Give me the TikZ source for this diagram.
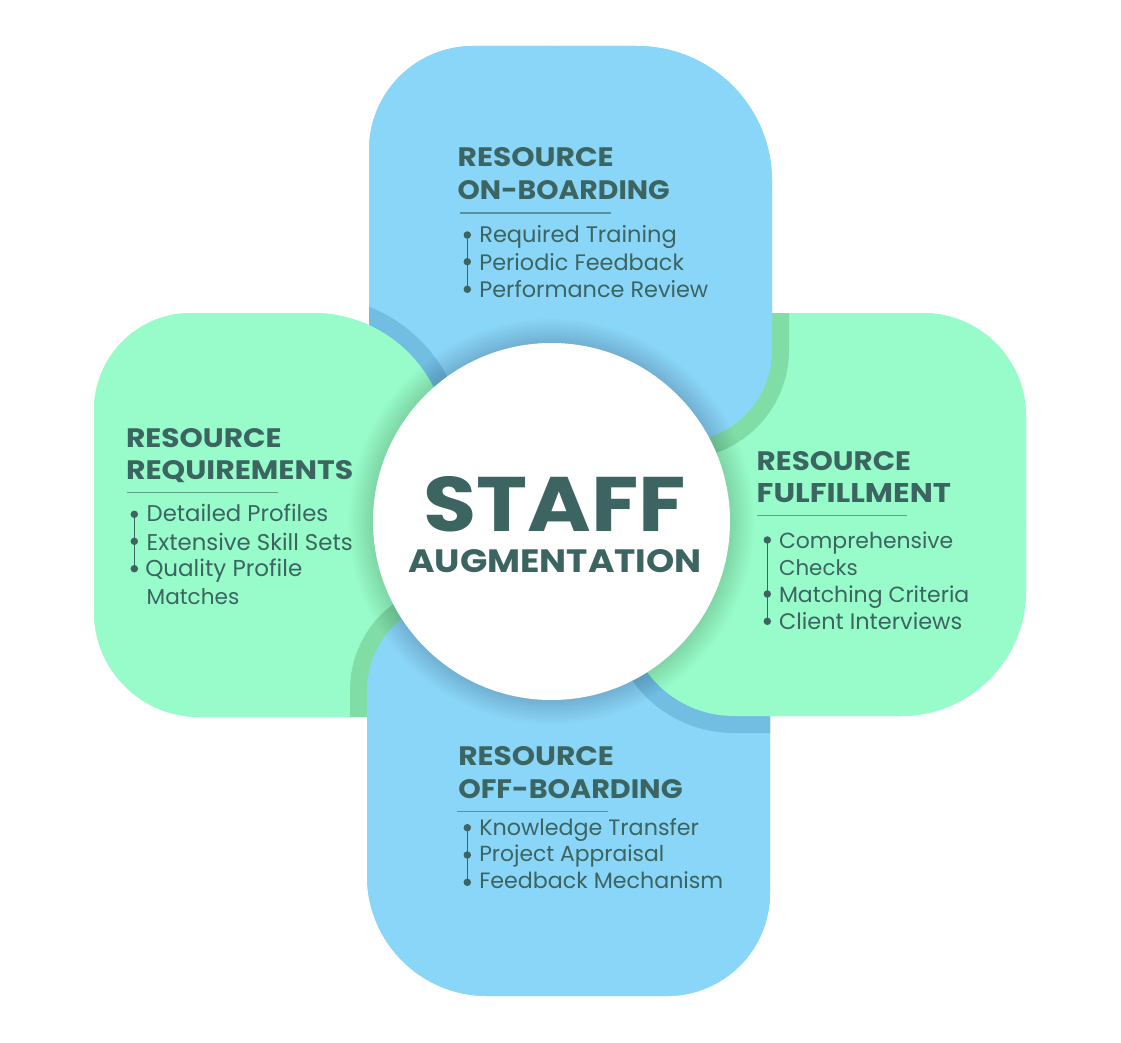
\documentclass[tikz,border=0pt]{standalone}
\usepackage{fontspec}
\usepackage{graphicx}
\setmainfont{Poppins}
\definecolor{blu}{HTML}{8AD6F8}
\definecolor{grn}{HTML}{97FCCA}
\definecolor{dblu}{HTML}{72BEE3}
\definecolor{dgrn}{HTML}{80DDA6}
\definecolor{ink}{RGB}{60,100,96}
% rounded rectangle: x0 y0 x1 y1 r_tl r_tr r_br r_bl (image coords, y down)
\newcommand\shp[8]{({#1+(#5)},{#2}) -- ({#3-(#6)},{#2}) arc[start angle=270,end angle=360,radius={#6}] -- ({#3},{#4-(#7)}) arc[start angle=0,end angle=90,radius={#7}] -- ({#1+(#8)},{#4}) arc[start angle=90,end angle=180,radius={#8}] -- ({#1},{#2+(#5)}) arc[start angle=180,end angle=270,radius={#5}] -- cycle}
\newcommand\shpb[8]{\shp{#1-17}{#2-17}{#3+17}{#4+17}{#5+17}{#6+17}{#7+17}{#8+17}}
\newcommand\Ptop{\shp{369}{46}{772}{442}{104}{135}{92}{100}}
\newcommand\Btop{\shpb{369}{46}{772}{442}{104}{135}{92}{100}}
\newcommand\Pright{\shp{626}{313}{1026}{716}{100}{103}{125}{108}}
\newcommand\Bright{\shpb{626}{313}{1026}{716}{100}{103}{125}{108}}
\newcommand\Pbot{\shp{367}{600}{770}{996}{90}{100}{103}{120}}
\newcommand\Bbot{\shpb{367}{600}{770}{996}{90}{100}{103}{120}}
\newcommand\Pleft{\shp{94}{313}{448}{717}{97}{135}{60}{105}}
\newcommand\Bleft{\shpb{94}{313}{448}{717}{97}{135}{60}{105}}
\tikzset{
  hd/.style={anchor=base west,inner sep=0pt,outer sep=0pt,text=ink},
  it/.style={anchor=base west,inner sep=0pt,outer sep=0pt,text=ink},
  dotn/.style={circle,fill=ink,inner sep=0pt,minimum size=7.5pt},
  stem/.style={draw=ink,line width=1.5pt},
  rulel/.style={draw=ink,draw opacity=0.6,line width=1.1pt},
}
\begin{document}
\begin{tikzpicture}[x=1pt,y=-1pt]
\useasboundingbox (0,0) rectangle (1121,1043);
\coordinate (C) at (551.5,521.5);
% base layer (removes seams at the quadrant borders)
\fill[blu] \Ptop; \fill[blu] \Pbot;
\fill[grn] \Pright; \fill[grn] \Pleft;
% top-right quadrant: top over right
\begin{scope}
  \clip (550,0) rectangle (1121,523);
  \fill[grn] \Pright;
  \begin{scope}\clip \Pright; \fill[dgrn] \Btop; \end{scope}
  \fill[blu] \Ptop;
\end{scope}
% bottom-right quadrant: right over bottom
\begin{scope}
  \clip (550,520) rectangle (1121,1043);
  \fill[blu] \Pbot;
  \begin{scope}\clip \Pbot; \fill[dblu] \Bright; \end{scope}
  \fill[grn] \Pright;
\end{scope}
% bottom-left quadrant: bottom over left
\begin{scope}
  \clip (0,520) rectangle (553,1043);
  \fill[grn] \Pleft;
  \begin{scope}\clip \Pleft; \fill[dgrn] \Bbot; \end{scope}
  \fill[blu] \Pbot;
\end{scope}
% top-left quadrant: left over top
\begin{scope}
  \clip (0,0) rectangle (553,523);
  \fill[blu] \Ptop;
  \begin{scope}\clip \Ptop; \fill[dblu] \Bleft; \end{scope}
  \fill[grn] \Pleft;
\end{scope}
% soft shadow around the centre circle
\foreach \k in {1,...,12} {
  \fill[black,opacity=0.013] (C) circle[radius=178.5+2*\k];
}
\node[circle,fill=white,inner sep=0pt,minimum size=357pt] (hub) at (C) {};
% centre title
\node[hd] (staff) at (423.3,531.7) {\resizebox{262.4pt}{55pt}{\bfseries STAFF}};
\node[hd] (aug) at (408.3,572.3) {\resizebox{293.4pt}{23pt}{\bfseries AUGMENTATION}};

% ---------- top block ----------
\node[hd] (th1) at (457.7,166.7) {\resizebox{156pt}{19pt}{\bfseries RESOURCE}};
\node[hd] (th2) at (457.7,199.7) {\resizebox{212pt}{19pt}{\bfseries ON-BOARDING}};
\coordinate (tra) at (460,213); \coordinate (trb) at (610.7,213);
\draw[rulel] (tra) -- (trb);
\node[dotn] (td1) at (467.3,235) {};
\node[dotn] (td2) at (467.3,261.7) {};
\node[dotn] (td3) at (467.3,289.3) {};
\draw[stem] (td1.center) -- (td3.center);
\node[it] (ti1) at (479.3,242.7) {\resizebox{197.4pt}{!}{Required Training}};
\node[it] (ti2) at (479.3,270) {\resizebox{204.7pt}{!}{Periodic Feedback}};
\node[it] (ti3) at (479.3,297.3) {\resizebox{229pt}{!}{Performance Review}};

% ---------- left block ----------
\node[hd] (lh1) at (126,447.3) {\resizebox{155.7pt}{19pt}{\bfseries RESOURCE}};
\node[hd] (lh2) at (126,479) {\resizebox{227.3pt}{19pt}{\bfseries REQUIREMENTS}};
\coordinate (lra) at (127.3,492.3); \coordinate (lrb) at (278,492.3);
\draw[rulel] (lra) -- (lrb);
\node[dotn] (ld1) at (134.3,514.3) {};
\node[dotn] (ld2) at (134.3,541.3) {};
\node[dotn] (ld3) at (134.3,568.7) {};
\draw[stem] (ld1.center) -- (ld3.center);
\node[it] (li1) at (146.7,521.7) {\resizebox{181.6pt}{!}{Detailed Profiles}};
\node[it] (li2) at (146.7,550) {\resizebox{206pt}{!}{Extensive Skill Sets}};
\node[it] (li3) at (145.3,576.7) {\resizebox{157pt}{!}{Quality Profile}};
\node[it] (li4) at (146.7,604) {\resizebox{92.6pt}{!}{Matches}};

% ---------- right block ----------
\node[hd] (rh1) at (756.7,470) {\resizebox{154.3pt}{19pt}{\bfseries RESOURCE}};
\node[hd] (rh2) at (756.7,502.3) {\resizebox{194.3pt}{19pt}{\bfseries FULFILLMENT}};
\coordinate (rra) at (757.3,515.3); \coordinate (rrb) at (907.3,515.3);
\draw[rulel] (rra) -- (rrb);
\node[dotn] (rd1) at (767.3,540) {};
\node[dotn] (rd2) at (767.3,594) {};
\node[dotn] (rd3) at (767.3,621.3) {};
\draw[stem] (rd1.center) -- (rd3.center);
\node[it] (ri1) at (779,548.3) {\resizebox{174.3pt}{!}{Comprehensive}};
\node[it] (ri2) at (779,575) {\resizebox{78.7pt}{!}{Checks}};
\node[it] (ri3) at (779,602.3) {\resizebox{190.3pt}{!}{Matching Criteria}};
\node[it] (ri4) at (779,629.3) {\resizebox{183.3pt}{!}{Client Interviews}};

% ---------- bottom block ----------
\node[hd] (bh1) at (458.3,765.7) {\resizebox{155.7pt}{19pt}{\bfseries RESOURCE}};
\node[hd] (bh2) at (458.3,798.3) {\resizebox{224.3pt}{19pt}{\bfseries OFF-BOARDING}};
\coordinate (bra) at (457.3,811.3); \coordinate (brb) at (607.7,811.3);
\draw[rulel] (bra) -- (brb);
\node[dotn] (bd1) at (467.3,827.7) {};
\node[dotn] (bd2) at (467.3,855) {};
\node[dotn] (bd3) at (467.3,882.3) {};
\draw[stem] (bd1.center) -- (bd3.center);
\node[it] (bi1) at (479.3,835) {\resizebox{219.7pt}{!}{Knowledge Transfer}};
\node[it] (bi2) at (479.3,861.7) {\resizebox{185pt}{!}{Project Appraisal}};
\node[it] (bi3) at (479.3,888.3) {\resizebox{244pt}{!}{Feedback Mechanism}};
\end{tikzpicture}
\end{document}
